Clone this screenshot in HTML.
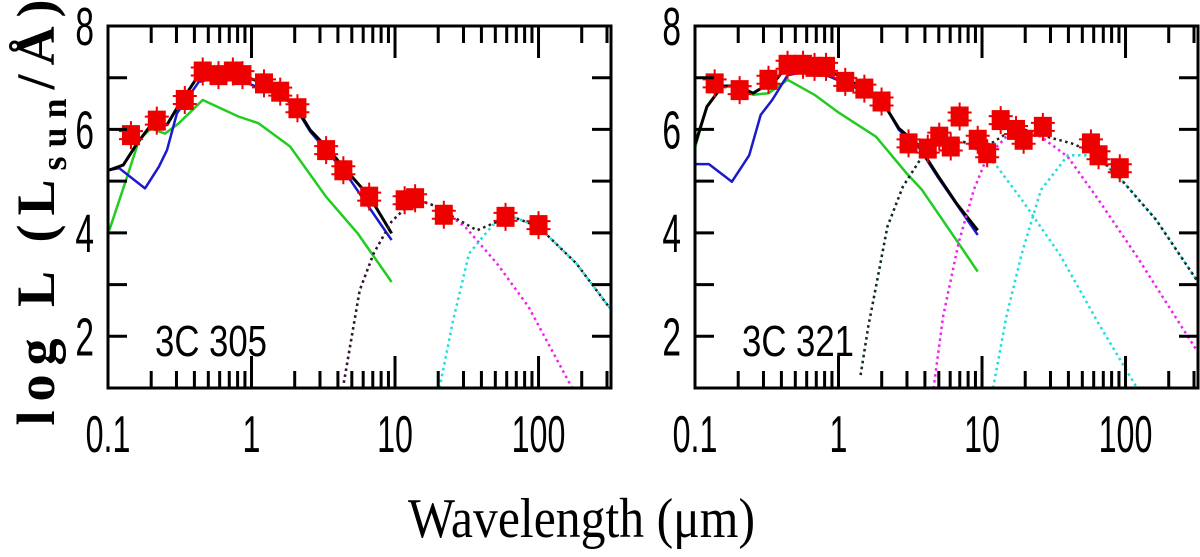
<!DOCTYPE html>
<html><head><meta charset="utf-8"><style>
html,body{margin:0;padding:0;background:#fff;}
svg{display:block;}
</style></head><body>
<svg id="chart" width="1200" height="557" viewBox="0 0 1200 557" xmlns="http://www.w3.org/2000/svg">
<text transform="translate(54,208) rotate(-90)" text-anchor="middle" font-family="Liberation Serif, serif" font-weight="bold" font-size="54" letter-spacing="9">log L (L<tspan font-size="36" dy="12">sun</tspan><tspan dy="-12">/Å)</tspan></text>
<text x="408" y="537" font-family="Liberation Serif, serif" font-size="56" textLength="347" lengthAdjust="spacingAndGlyphs">Wavelength (μm)</text>
</svg>
<script>
// ---------- Data: left panel (3C 305), log10 wavelength [um] and log L ----------
const leftObsLogWave=[-0.84,-0.66,-0.465,-0.34,-0.23,-0.13,-0.063,0.087,0.2,0.32,0.52,0.64,0.82,1.067,1.14,1.34,1.77,2.0];
const leftObsLogL=[5.89,6.17,6.57,7.12,7.05,7.12,7.05,6.89,6.73,6.41,5.6,5.21,4.70,4.63,4.67,4.35,4.31,4.15];
const leftTotalLogWave=[-0.991,-0.894,-0.797,-0.70,-0.589,-0.52,-0.368,-0.257,-0.091,0.02,0.186,0.297,0.408,0.519,0.657,0.823,0.976];
const leftTotalLogL=[5.215,5.31,5.73,6.09,6.09,6.41,7.05,7.12,7.05,6.96,6.70,6.50,5.99,5.67,5.22,4.70,3.99];
const leftBlueLogWave=[-0.991,-0.922,-0.742,-0.645,-0.589,-0.52,-0.368,-0.257,-0.091,0.186,0.297,0.408,0.657,0.976];
const leftBlueLogL=[5.215,5.25,4.86,5.28,5.60,6.31,6.92,6.99,6.96,6.67,6.47,5.96,5.15,3.86];
const leftGreenLogWave=[-0.991,-0.866,-0.783,-0.70,-0.603,-0.506,-0.34,-0.091,0.048,0.269,0.519,0.74,0.976];
const leftGreenLogL=[4.05,5.09,5.80,6.02,5.92,6.12,6.57,6.25,6.12,5.67,4.70,3.99,3.05];
const leftDustLogWave=[0.643,0.754,0.851,0.976,1.08,1.197,1.30,1.405,1.571,1.70,1.82,2.0,2.263,2.499];
const leftDustLogL=[1.1,2.89,3.60,4.22,4.50,4.60,4.50,4.31,4.05,4.20,4.31,4.12,3.41,2.54];
const leftMagentaLogWave=[0.643,0.754,0.851,0.976,1.08,1.197,1.30,1.488,1.71,1.93,2.236];
const leftMagentaLogL=[1.1,2.89,3.60,4.22,4.50,4.60,4.50,4.12,3.41,2.57,0.99];
const leftCyanLogWave=[1.31,1.405,1.516,1.68,1.82,2.0,2.263,2.499];
const leftCyanLogL=[1.0,2.31,3.60,4.15,4.31,4.12,3.41,2.54];
// ---------- Data: right panel (3C 321) ----------
const rightObsLogWave=[-0.863,-0.689,-0.488,-0.355,-0.247,-0.167,-0.087,0.047,0.18,0.3,0.488,0.622,0.702,0.782,0.844,0.97,1.036,1.13,1.237,1.29,1.424,1.759,1.812,1.96];
const rightObsLogL=[6.89,6.76,6.96,7.25,7.25,7.21,7.21,6.92,6.79,6.54,5.73,5.63,5.86,5.67,6.25,5.80,5.54,6.18,5.99,5.80,6.05,5.73,5.50,5.25];
const rightTotalLogWave=[-0.997,-0.917,-0.81,-0.702,-0.595,-0.542,-0.435,-0.355,-0.274,-0.06,0.047,0.234,0.341,0.421,0.555,0.689,0.822,0.97];
const rightTotalLogL=[5.73,6.44,6.84,6.84,6.70,6.79,6.96,7.25,7.28,7.12,6.99,6.70,6.38,6.02,5.70,5.12,4.57,4.05];
const rightBlueLogWave=[-0.997,-0.903,-0.743,-0.622,-0.542,-0.462,-0.355,-0.221,-0.06,0.047,0.234,0.341,0.421,0.555,0.689,0.97];
const rightBlueLogL=[5.33,5.33,4.99,5.50,6.28,6.57,7.05,7.12,7.02,6.89,6.67,6.38,5.99,5.67,5.09,3.96];
const rightGreenLogWave=[-0.997,-0.917,-0.81,-0.702,-0.595,-0.488,-0.355,-0.167,-0.007,0.261,0.475,0.582,0.836,0.97];
const rightGreenLogL=[5.67,6.44,6.84,6.84,6.67,6.70,6.96,6.67,6.34,5.86,5.15,4.83,3.80,3.25];
const rightCyan1LogWave=[0.154,0.207,0.261,0.341,0.448,0.582,0.689,0.822,0.983,1.1,1.277,1.545,1.812,2.08];
const rightCyan1LogL=[1.25,2.18,2.96,4.12,4.89,5.47,5.73,5.80,5.62,5.3,4.64,3.57,2.25,1.0];
const rightMagentaLogWave=[0.662,0.729,0.836,0.943,1.036,1.17,1.304,1.411,1.598,1.812,2.08,2.495];
const rightMagentaLogL=[0.99,2.38,3.80,4.83,5.47,5.86,5.96,5.86,5.47,4.64,3.54,1.73];
const rightCyan2LogWave=[1.077,1.17,1.277,1.411,1.598,1.786,1.973,2.214,2.495];
const rightCyan2LogL=[1.0,2.38,3.60,4.83,5.50,5.50,5.02,4.25,3.09];
const rightDustLogWave=[0.154,0.207,0.261,0.341,0.448,0.582,0.689,0.822,0.983,1.063,1.17,1.304,1.411,1.625,1.786,1.973,2.214,2.495];
const rightDustLogL=[1.25,2.18,2.96,4.12,4.89,5.47,5.73,5.80,5.67,5.73,5.92,5.99,5.89,5.73,5.54,5.02,4.25,3.09];
const xTickLabels=["0.1","1","10","100"];
const xTickLogs=[-1,0,1,2];
const yTickValues=[2,4,6,8];
const panelNames=["3C 305","3C 321"];

const NS="http://www.w3.org/2000/svg";
const svg=document.getElementById('chart');
function mk(tag,attrs,parent){const e=document.createElementNS(NS,tag);for(const k in attrs)e.setAttribute(k,attrs[k]);(parent||svg).appendChild(e);return e;}

function panel(x0,x1,label,name,series,obsX,obsY){
  const y0=26,y1=388, lmin=-1,lmax=2.505, vmin=1,vmax=8;
  const sx=l=>x0+(l-lmin)/(lmax-lmin)*(x1-x0);
  const sy=v=>y1-(v-vmin)/(vmax-vmin)*(y1-y0);
  const g=mk('g',{});
  
  
  const clipId='clip-'+name;
  const cp=mk('clipPath',{id:clipId},g);
  mk('rect',{x:x0,y:y0,width:x1-x0,height:y1-y0},cp);
  const plot=mk('g',{'clip-path':'url(#'+clipId+')'},g);
  series.forEach(s=>{
    const d=s.x.map((l,i)=>(i?'L':'M')+sx(l).toFixed(1)+','+sy(s.y[i]).toFixed(1)).join(' ');
    const p=mk('path',{d:d,fill:'none',stroke:s.c,'stroke-width':s.w,'stroke-dasharray':s.dash||'none','stroke-linejoin':'round'},plot);
    
    
  });
  obsX.forEach((l,i)=>{
    const cx=sx(l),cy=sy(obsY[i]);
    const m=mk('g',{},plot);
    
    
    mk('rect',{x:cx-9,y:cy-10,width:18,height:20,fill:'#ee0000'},m);
    mk('path',{d:`M${cx-12},${cy-4}h24M${cx-12},${cy+4}h24M${cx},${cy-14}v28`,stroke:'#ee0000','stroke-width':2},m);
  });
  const box=mk('rect',{x:x0,y:y0,width:x1-x0,height:y1-y0,fill:'none',stroke:'#000','stroke-width':3},g);
  
  
  let tp='';
  for(let dec=-1;dec<=2;dec++){for(let k=1;k<=9;k++){const l=dec+Math.log10(k);if(l>lmax)break;const x=sx(l);const len=k===1?32:17;tp+=`M${x},${y1}v${-len}M${x},${y0}v${len}`;}}
  for(let v=1;v<=8;v++){const y=sy(v);tp+=`M${x0},${y}h19M${x1},${y}h-19`;}
  const t=mk('path',{d:tp,stroke:'#000','stroke-width':3,fill:'none'},g);
  
  
  xTickLabels.forEach((s,i)=>{
    const tx=mk('text',{x:sx(xTickLogs[i]),y:452,'text-anchor':'middle','font-family':'Liberation Sans, sans-serif','font-size':52,transform:`translate(${sx(xTickLogs[i])},0) scale(0.62,1) translate(${-sx(xTickLogs[i])},0)`},g);
    tx.textContent=s;
    
    
  });
  yTickValues.forEach(v=>{
    const lx=x0-14;
    const ty=mk('text',{x:lx,y:sy(v)+19,'text-anchor':'end','font-family':'Liberation Sans, sans-serif','font-size':54,transform:`translate(${lx},0) scale(0.62,1) translate(${-lx},0)`},g);
    ty.textContent=String(v);
    
    
  });
  const lab=mk('text',{x:x0+47,y:356,'font-family':'Liberation Sans, sans-serif','font-size':44,textLength:112,lengthAdjust:'spacingAndGlyphs'},g);
  lab.textContent=label;
  
  
}

const dot='2.5 3.5';
panel(108,611,panelNames[0],'left',[
  {x:leftGreenLogWave,y:leftGreenLogL,c:'#22cc22',w:2.5,n:'stellar-young-curve'},
  {x:leftBlueLogWave,y:leftBlueLogL,c:'#1a1acc',w:2.5,n:'stellar-old-curve'},
  {x:leftTotalLogWave,y:leftTotalLogL,c:'#000',w:3,n:'total-stellar-curve'},
  {x:leftMagentaLogWave,y:leftMagentaLogL,c:'#ee22ee',w:2.5,dash:dot,n:'warm-dust-curve'},
  {x:leftCyanLogWave,y:leftCyanLogL,c:'#22dddd',w:2.5,dash:dot,n:'cold-dust-curve'},
  {x:leftDustLogWave,y:leftDustLogL,c:'#222',w:2.5,dash:dot,n:'total-dust-curve'}
],leftObsLogWave,leftObsLogL);
panel(695,1198,panelNames[1],'right',[
  {x:rightGreenLogWave,y:rightGreenLogL,c:'#22cc22',w:2.5,n:'stellar-young-curve'},
  {x:rightBlueLogWave,y:rightBlueLogL,c:'#1a1acc',w:2.5,n:'stellar-old-curve'},
  {x:rightTotalLogWave,y:rightTotalLogL,c:'#000',w:3,n:'total-stellar-curve'},
  {x:rightCyan1LogWave,y:rightCyan1LogL,c:'#22dddd',w:2.5,dash:dot,n:'hot-dust-curve'},
  {x:rightMagentaLogWave,y:rightMagentaLogL,c:'#ee22ee',w:2.5,dash:dot,n:'warm-dust-curve'},
  {x:rightCyan2LogWave,y:rightCyan2LogL,c:'#22dddd',w:2.5,dash:dot,n:'cold-dust-curve'},
  {x:rightDustLogWave,y:rightDustLogL,c:'#222',w:2.5,dash:dot,n:'total-dust-curve'}
],rightObsLogWave,rightObsLogL);
</script>
</body></html>
